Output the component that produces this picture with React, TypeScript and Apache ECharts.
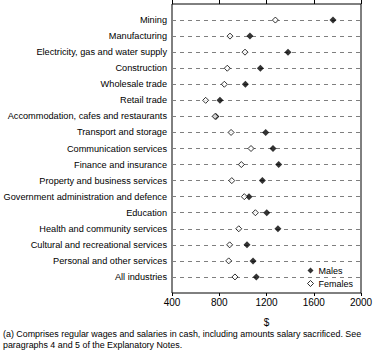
import React, { useEffect, useRef } from "react";
import * as echarts from "echarts";

const categories = [
  "Mining",
  "Manufacturing",
  "Electricity, gas and water supply",
  "Construction",
  "Wholesale trade",
  "Retail trade",
  "Accommodation, cafes and restaurants",
  "Transport and storage",
  "Communication services",
  "Finance and insurance",
  "Property and business services",
  "Government administration and defence",
  "Education",
  "Health and community services",
  "Cultural and recreational services",
  "Personal and other services",
  "All industries",
];
const males = [1763, 1060, 1382, 1148, 1021, 806, 772, 1193, 1255, 1303, 1165, 1052, 1202, 1297, 1035, 1086, 1114];
const females = [1275, 891, 1018, 868, 843, 685, 765, 900, 1069, 987, 906, 1012, 1106, 965, 888, 880, 933];
const xTicks = [400, 800, 1200, 1600, 2000];
const xName = "$";
const footnote = [
  "(a) Comprises regular wages and salaries in cash, including amounts salary sacrificed. See",
  "paragraphs 4 and 5 of the Explanatory Notes.",
];

const FONT = "'Liberation Sans', Arial, sans-serif";
const PAD_TOP = "__top";
const PAD_BOTTOM = "__bottom";

export default function App() {
  const ref = useRef<HTMLDivElement>(null);
  useEffect(() => {
    if (!ref.current) return;
    const chart = echarts.init(ref.current, null, { renderer: "svg" });
    const yData = [PAD_TOP, ...categories, PAD_BOTTOM];
    const xMin = xTicks[0];
    const xMax = xTicks[xTicks.length - 1];
    const xInt = xTicks[1] - xTicks[0];
    chart.setOption({
      animation: false,
      textStyle: { fontFamily: FONT },
      grid: {
        left: 172,
        right: 17,
        top: 4,
        bottom: 66,
        show: true,
        borderColor: "#000",
        borderWidth: 1,
        backgroundColor: "transparent",
      },
      legend: {
        orient: "vertical",
        left: 307,
        top: 266,
        itemWidth: 6,
        itemHeight: 6,
        itemGap: 4,
        padding: 0,
        textStyle: { fontSize: 9, color: "#000", fontFamily: FONT },
        data: [
          { name: "Males", itemStyle: { color: "#000", borderWidth: 0 } },
          { name: "Females", itemStyle: { color: "#fff", borderColor: "#000", borderWidth: 1 } },
        ],
      },
      xAxis: [
        {
          type: "value",
          position: "bottom",
          min: xMin,
          max: xMax,
          interval: xInt,
          name: xName,
          nameLocation: "middle",
          nameGap: 24,
          nameTextStyle: { fontSize: 10, color: "#000", fontFamily: FONT },
          axisLine: { show: false },
          axisTick: { show: true, length: 3, lineStyle: { color: "#000" } },
          axisLabel: {
            fontSize: 10,
            color: "#000",
            margin: 4,
            fontFamily: FONT,
            formatter: (v: number) => String(v),
          },
          splitLine: { show: false },
        },
        {
          type: "value",
          position: "top",
          min: xMin,
          max: xMax,
          interval: xInt,
          axisLine: { show: false },
          axisTick: { show: true, length: 4, lineStyle: { color: "#000" } },
          axisLabel: { show: false },
          splitLine: { show: false },
        },
      ],
      yAxis: {
        type: "category",
        inverse: true,
        boundaryGap: false,
        data: yData,
        axisLine: { show: false },
        axisTick: { show: false },
        axisLabel: {
          fontSize: 9.2,
          color: "#000",
          margin: 5,
          fontFamily: FONT,
          interval: 0,
          formatter: (v: string) => (v === PAD_TOP || v === PAD_BOTTOM ? "" : v),
        },
        splitLine: {
          show: true,
          interval: (index: number) => index > 0 && index < yData.length - 1,
          lineStyle: { color: "#7f7f7f", type: [4, 4], width: 1 },
        },
      },
      graphic: footnote.map((t, i) => ({
        type: "text",
        left: 3,
        top: 329 + i * 11,
        style: { text: t, fontSize: 8.9, fill: "#000", fontFamily: FONT },
      })),
      series: [
        {
          name: "Males",
          type: "scatter",
          symbol: "diamond",
          symbolSize: 7,
          itemStyle: { color: "#000" },
          data: males.map((v, i) => [v, categories[i]]),
          z: 2,
        },
        {
          name: "Females",
          type: "scatter",
          symbol: "diamond",
          symbolSize: 6,
          itemStyle: { color: "#fff", borderColor: "#000", borderWidth: 1 },
          data: females.map((v, i) => [v, categories[i]]),
          z: 3,
        },
      ],
    });
    return () => chart.dispose();
  }, []);
  return (
    <div
      ref={ref}
      style={{ position: "fixed", left: 0, top: 0, width: 378, height: 359, background: "#fff" }}
    />
  );
}
